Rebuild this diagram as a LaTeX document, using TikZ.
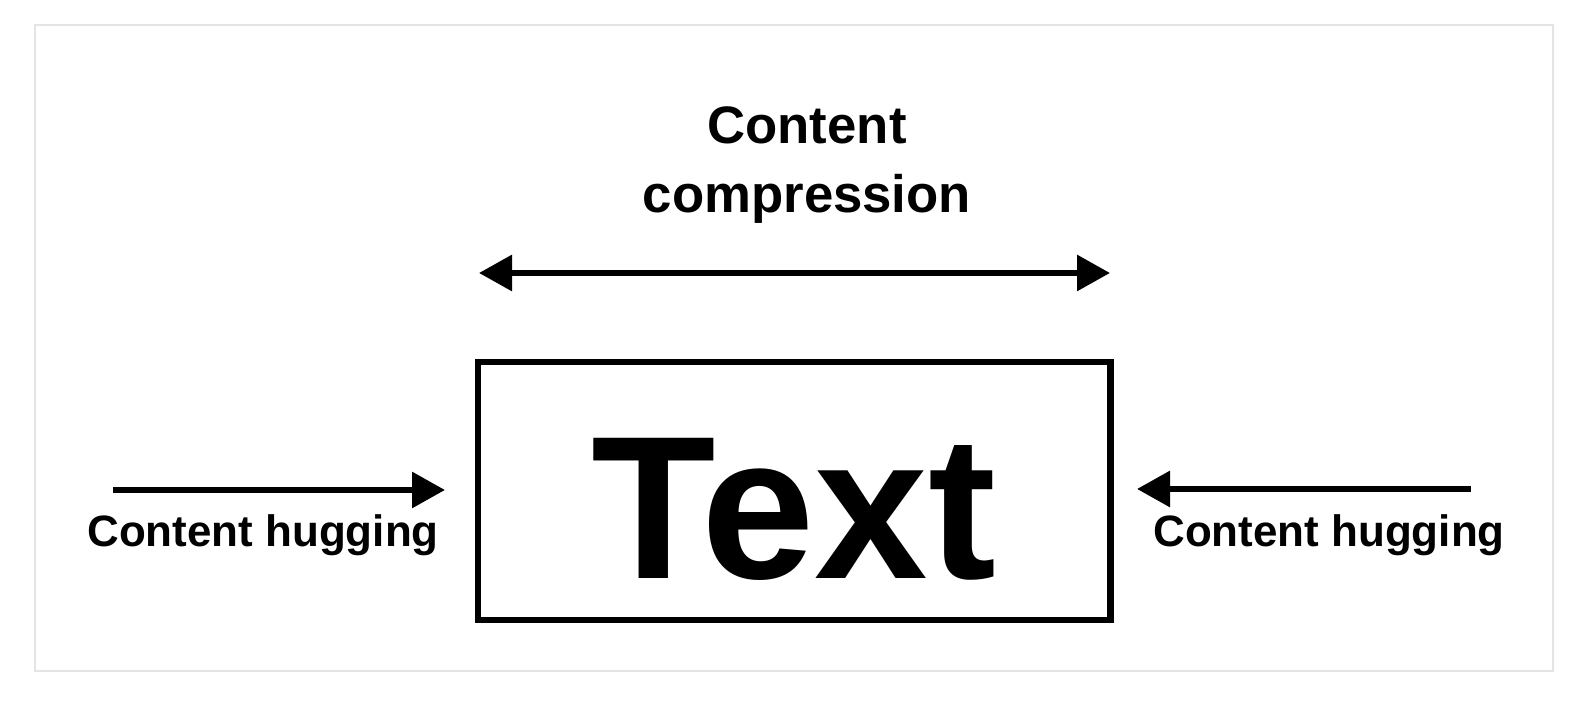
\documentclass[tikz,border=0pt]{standalone}
\usepackage{fontspec}
\setmainfont{Liberation Sans}
\definecolor{framegray}{RGB}{228, 228, 228}
\usepackage{tikz}
\usetikzlibrary{arrows.meta, positioning, calc}

\begin{document}
\begin{tikzpicture}[
  tbox/.style={draw, line width=1.85pt, minimum width=6.325cm, minimum height=2.58cm, inner sep=0pt},
  lbl/.style={font=\bfseries\fontsize{12.5}{15}\selectfont, inner sep=0pt},
  arr/.style={line width=1.75pt, -{Triangle[length=3.3mm, width=3.5mm]}}
]
  \useasboundingbox (0, 0) rectangle (15.78, 7.02);
  \draw[framegray, line width=0.6pt] (0.35, 0.31) rectangle (15.53, 6.77);

  \node[tbox] (frame) at (7.94, 2.11) {};
  \node[font=\bfseries\fontsize{58}{60}\selectfont, inner sep=0pt] (word) at ([yshift=-0.18cm]frame.center) {Text};

  % top: compression
  \node[font=\bfseries\fontsize{15}{19.5}\selectfont, align=center, inner sep=0pt] (comp) at (8.07, 5.37) {
    Content\\
    compression
  };
  \coordinate (compL) at (4.79, 4.29);
  \coordinate (compR) at (11.10, 4.29);
  \draw[arr, {Triangle[length=3.3mm, width=3.5mm]}-{Triangle[length=3.3mm, width=3.5mm]}] (compL) -- (compR);

  % sides: hugging
  \coordinate (hugLa) at (1.13, 2.12);
  \coordinate (hugLb) at (4.45, 2.12);
  \coordinate (hugRa) at (14.71, 2.13);
  \coordinate (hugRb) at (11.37, 2.13);
  \draw[arr] (hugLa) -- (hugLb);
  \draw[arr] (hugRa) -- (hugRb);
  \node[lbl, anchor=base] (hugL) at (2.63, 1.55) {Content hugging};
  \node[lbl, anchor=base] (hugR) at (13.29, 1.55) {Content hugging};
\end{tikzpicture}
\end{document}
